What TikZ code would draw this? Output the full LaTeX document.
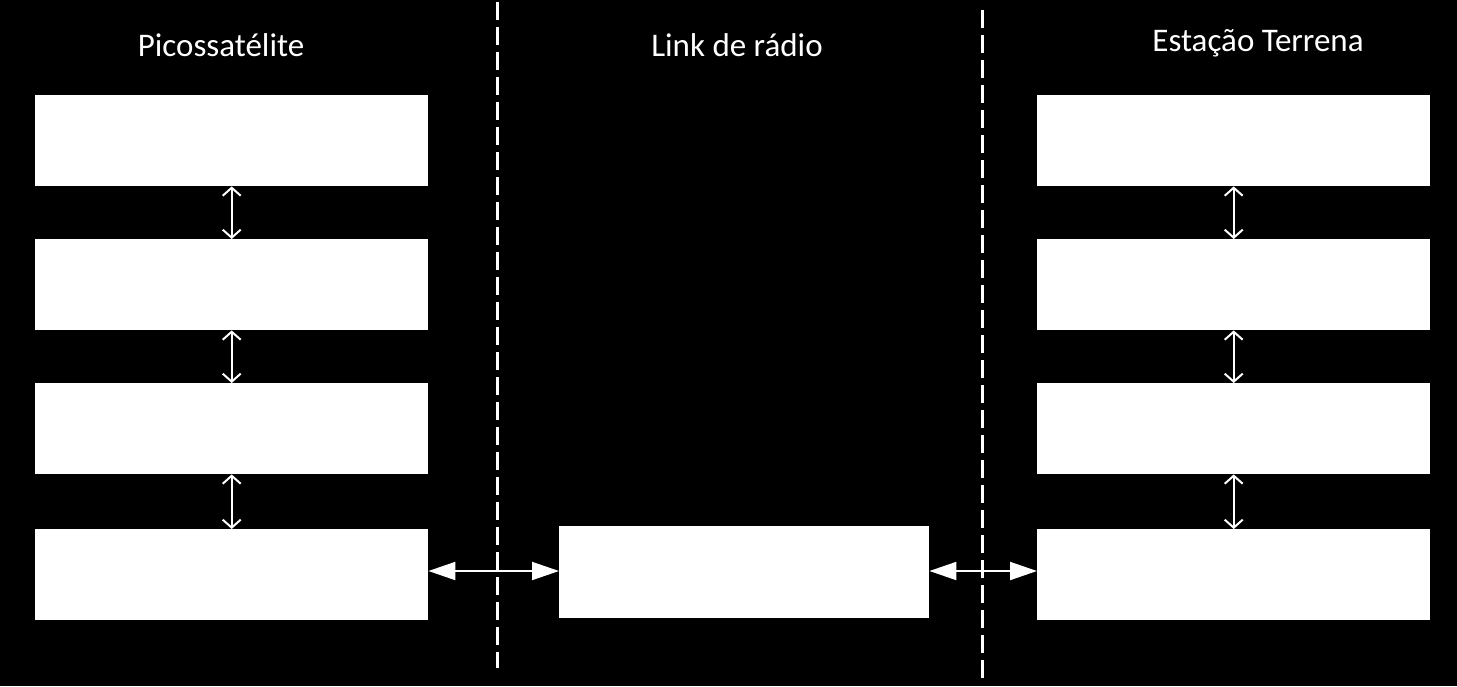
\documentclass[tikz,border=0pt]{standalone}
\usepackage{fontspec}
\setmainfont{Carlito}
\usetikzlibrary{arrows.meta}
\begin{document}
\begin{tikzpicture}[x=1pt,y=-1pt,
  blk/.style={fill=white,draw=none,minimum width=393pt,minimum height=91pt,inner sep=0pt,anchor=north west},
  midblk/.style={fill=white,draw=none,minimum width=370pt,minimum height=92pt,inner sep=0pt,anchor=north west},
  head/.style={text=white,font=\fontsize{33}{38}\selectfont,inner sep=0pt},
  vlink/.style={draw=white,line width=2pt,{Straight Barb[length=8pt,width=18pt]}-{Straight Barb[length=8pt,width=18pt]}},
  hlink/.style={draw=white,line width=2pt,{Triangle[length=27pt,width=18pt]}-{Triangle[length=27pt,width=18pt]}},
  sep/.style={draw=white,line width=3pt,dash pattern=on 18pt off 7pt}]
\fill[black] (0,0) rectangle (1457,686);
\useasboundingbox (0,0) rectangle (1457,686);
% headings
\node[head] (h1) at (221,45) {Picossatélite};
\node[head] (h2) at (737,45) {Link de rádio};
\node[head] (h3) at (1258,43) {Estação Terrena};
% separators
\coordinate (s1t) at (497,2);
\coordinate (s1b) at (497,668);
\coordinate (s2t) at (982,10);
\coordinate (s2b) at (982,680);
\draw[sep] (s1t) -- (s1b);
\draw[sep] (s2t) -- (s2b);
% left column
\node[blk] (l1) at (35,95) {};
\node[blk] (l2) at (35,239) {};
\node[blk] (l3) at (35,383) {};
\node[blk] (l4) at (35,529) {};
% right column
\node[blk] (r1) at (1037,95) {};
\node[blk] (r2) at (1037,239) {};
\node[blk] (r3) at (1037,383) {};
\node[blk] (r4) at (1037,529) {};
% middle
\node[midblk] (m) at (559,526) {};
% vertical links
\draw[vlink] (l1.south) -- (l2.north);
\draw[vlink] (l2.south) -- (l3.north);
\draw[vlink] (l3.south) -- (l4.north);
\draw[vlink] (r1.south) -- (r2.north);
\draw[vlink] (r2.south) -- (r3.north);
\draw[vlink] (r3.south) -- (r4.north);
% horizontal links
\draw[hlink] (l4.east |- 0,571) -- (m.west |- 0,571);
\draw[hlink] (m.east |- 0,571) -- (r4.west |- 0,571);
\end{tikzpicture}
\end{document}
